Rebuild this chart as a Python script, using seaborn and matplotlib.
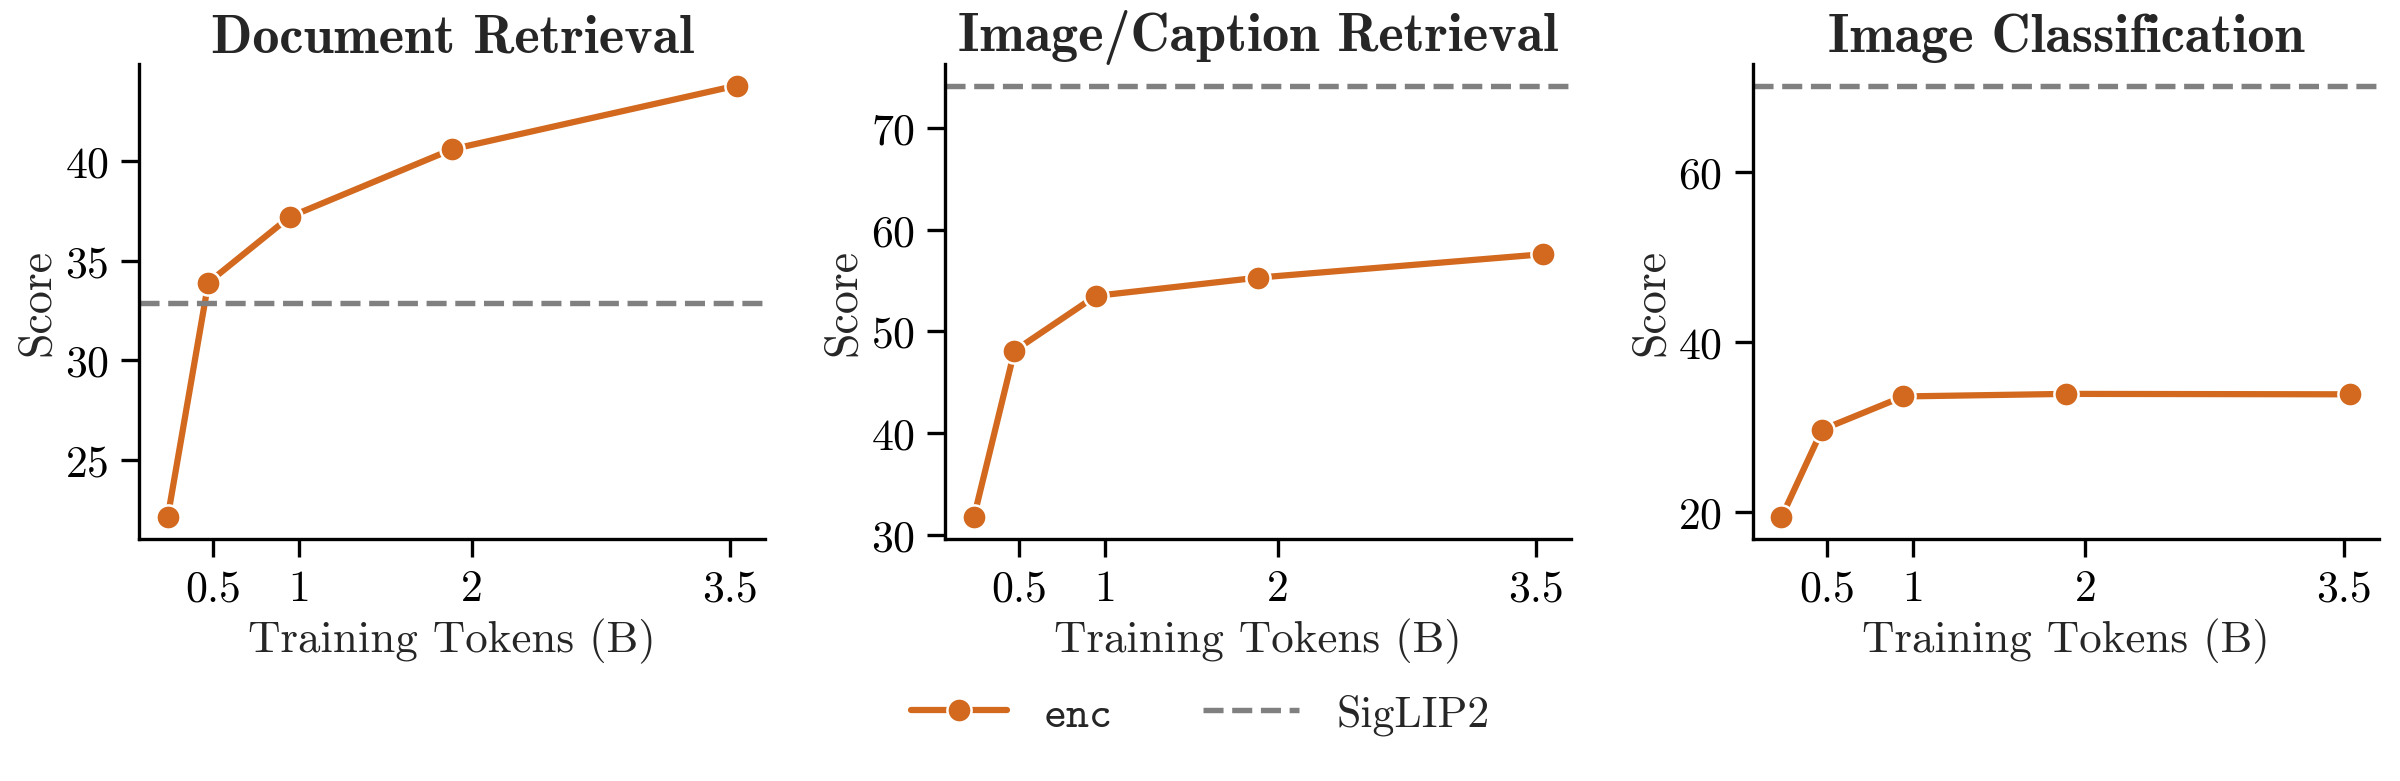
import matplotlib
matplotlib.use("Agg")
import matplotlib.pyplot as plt
import seaborn as sns
import pandas as pd

# training tokens (B) at each checkpoint
tokens = [0.236, 0.472, 0.944, 1.887, 3.538]
xtick_vals = [0.5, 1, 2, 3.5]
xtick_labels = ["0.5", "1", "2", "3.5"]

titles = ["Document Retrieval", "Image/Caption Retrieval", "Image Classification"]

enc_doc = [22.1, 33.9, 37.2, 40.6, 43.8]
enc_cap = [31.7, 48.1, 53.5, 55.3, 57.6]
enc_cls = [19.4, 29.7, 33.6, 33.9, 33.85]
enc_scores = [enc_doc, enc_cap, enc_cls]

siglip2 = [32.85, 74.2, 70.1]

ytick_vals = [[25, 30, 35, 40], [30, 40, 50, 60, 70], [20, 40, 60]]

orange = "#D2691E"
gray = "#808080"

sns.set_theme(style="ticks")
plt.rcParams["font.family"] = ["cmr10", "DejaVu Serif"]
plt.rcParams["mathtext.fontset"] = "cm"
plt.rcParams["axes.formatter.use_mathtext"] = True
plt.rcParams["axes.edgecolor"] = "black"
plt.rcParams["xtick.color"] = "black"
plt.rcParams["ytick.color"] = "black"

fig = plt.figure(figsize=(8, 782 / 300), dpi=300)
lefts = [0.058, 0.3939, 0.7304]
axes = [fig.add_axes([l, 0.3095, 0.2608, 0.6074]) for l in lefts]

for i, ax in enumerate(axes):
    df = pd.DataFrame({"tokens": tokens, "score": enc_scores[i]})
    sns.lineplot(x="tokens", y="score", data=df, ax=ax, color=orange,
                 marker="o", markersize=5.8, markeredgecolor="white",
                 markeredgewidth=0.6, linewidth=1.5, label="enc")
    ax.axhline(siglip2[i], color=gray, linestyle="--", linewidth=1.3,
               label="SigLIP2")

    ax.set_xticks(xtick_vals)
    ax.set_xticklabels(xtick_labels)
    ax.set_yticks(ytick_vals[i])
    ax.tick_params(axis="both", labelsize=10.5, length=4.3, width=0.8, pad=3)
    for s in ["left", "bottom"]:
        ax.spines[s].set_linewidth(0.8)
    sns.despine(ax=ax)

    ax.set_title(titles[i], fontsize=13, family="cmb10", color="#262626", pad=3)
    ax.set_xlabel("Training Tokens (B)", fontsize=10.8, color="#262626", labelpad=2)
    ax.set_ylabel("Score", fontsize=11, color="#262626", labelpad=1.5)

handles, labels = axes[0].get_legend_handles_labels()
for ax in axes:
    ax.get_legend().remove()

leg = fig.legend(handles, labels, loc="center", bbox_to_anchor=(0.5, 0.085),
                 ncol=2, frameon=False, fontsize=10.5, columnspacing=2.05,
                 handlelength=2.2, handletextpad=0.85)
leg.get_texts()[0].set_family("cmtt10")

plt.savefig("out.png", dpi=300)
